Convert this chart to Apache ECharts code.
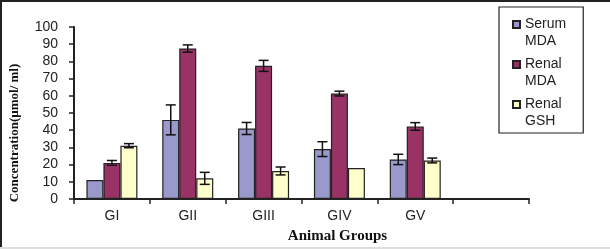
<!DOCTYPE html>
<html>
<head>
<meta charset="utf-8">
<script src="https://cdn.jsdelivr.net/npm/echarts@6/dist/echarts.min.js"></script>
<style>
    html, body { margin: 0; padding: 0; background: #fff; }
    #figure { width: 610px; height: 249px; }
</style>
</head>
<body>
<div id="figure"></div>
<script>
    const groups = ['GI', 'GII', 'GIII', 'GIV', 'GV', ''];
    const yTicks = [0, 10, 20, 30, 40, 50, 60, 70, 80, 90, 100];

    const serumMDA = [11, 46, 41, 29, 23, null];
    const serumMDAErr = [0, 8.7, 3.5, 4.3, 3, 0];
    const renalMDA = [21, 87.5, 77.4, 61.3, 42.2, null];
    const renalMDAErr = [1.4, 2.1, 3.2, 1.4, 2.2, 0];
    const renalGSH = [31, 12, 16.3, 18, 22.4, null];
    const renalGSHErr = [1.2, 3.5, 2.3, 0, 1.4, 0];

    const names = ['Serum\nMDA', 'Renal\nMDA', 'Renal\nGSH'];
    const colors = ['#9999cc', '#993366', '#ffffcc'];
    const BAR_W = 17;

    const $figure = document.getElementById('figure');
    const figure = echarts.init($figure);

    function errData(values, errs) {
        const out = [];
        for (let i = 0; i < values.length; i++) {
            if (values[i] == null || !errs[i]) continue;
            out.push([i, values[i] - errs[i], values[i] + errs[i]]);
        }
        return out;
    }

    function errSeries(values, errs, k) {
        return {
            type: 'custom',
            data: errData(values, errs),
            z: 5,
            silent: true,
            renderItem: function (params, api) {
                const lo = api.coord([api.value(0), api.value(1)]);
                const hi = api.coord([api.value(0), api.value(2)]);
                const x = lo[0] + (k - 1) * BAR_W;
                const style = {stroke: '#111', lineWidth: 1.5};
                return {
                    type: 'group',
                    children: [
                        {type: 'line', shape: {x1: x, y1: lo[1], x2: x, y2: hi[1]}, style: style},
                        {type: 'line', shape: {x1: x - 5, y1: lo[1], x2: x + 5, y2: lo[1]}, style: style},
                        {type: 'line', shape: {x1: x - 5, y1: hi[1], x2: x + 5, y2: hi[1]}, style: style}
                    ]
                };
            }
        };
    }

    function barSeries(k, values) {
        return {
            name: names[k],
            type: 'bar',
            data: values,
            barWidth: BAR_W,
            barGap: '0%',
            itemStyle: {color: colors[k], borderColor: '#222', borderWidth: 1.2}
        };
    }

    figure.setOption({
        animation: false,
        graphic: [
            {type: 'line', shape: {x1: 1, y1: 0, x2: 1, y2: 249}, style: {stroke: '#222', lineWidth: 2}},
            {type: 'line', shape: {x1: 0, y1: 1, x2: 610, y2: 1}, style: {stroke: '#222', lineWidth: 2}},
            {type: 'line', shape: {x1: 0, y1: 248, x2: 610, y2: 248}, style: {stroke: '#dddddd', lineWidth: 2}}
        ],
        grid: {left: 74, right: 81, top: 27, bottom: 42},
        legend: {
            orient: 'vertical',
            left: 499,
            top: 7,
            padding: [9, 17, 3, 13],
            itemGap: 6,
            itemWidth: 7,
            itemHeight: 24,
            icon: 'path://M0,0L7,0L7,7L0,7Z M0,24L0.01,24',
            borderColor: '#222',
            borderWidth: 1.2,
            textStyle: {fontFamily: 'Liberation Sans', fontSize: 14, color: '#222', lineHeight: 17},
            data: names
        },
        xAxis: {
            type: 'category',
            data: groups,
            name: 'Animal Groups',
            nameLocation: 'middle',
            nameGap: 30,
            nameTextStyle: {fontFamily: 'Liberation Serif', fontWeight: 'bold', fontSize: 15, color: '#111', padding: [0, 0, 0, 72]},
            axisLine: {lineStyle: {color: '#222', width: 2}},
            axisTick: {show: true, interval: 0, length: 5, lineStyle: {color: '#222', width: 1.5}},
            axisLabel: {interval: 0, margin: 10, fontFamily: 'Liberation Sans', fontSize: 14, color: '#222'}
        },
        yAxis: {
            type: 'value',
            min: yTicks[0],
            max: yTicks[yTicks.length - 1],
            interval: yTicks[1] - yTicks[0],
            name: 'Concentration(\u00b5mol/ ml)',
            nameLocation: 'middle',
            nameRotate: 90,
            nameGap: 53,
            nameTextStyle: {fontFamily: 'Liberation Serif', fontWeight: 'bold', fontSize: 13, color: '#111', padding: [0, 40, 0, 0]},
            axisLine: {show: true, lineStyle: {color: '#222', width: 2}},
            axisTick: {show: true, length: 5, lineStyle: {color: '#222', width: 1.5}},
            splitLine: {show: false},
            axisLabel: {margin: 16, fontFamily: 'Liberation Sans', fontSize: 14, color: '#222'}
        },
        series: [
            barSeries(0, serumMDA),
            barSeries(1, renalMDA),
            barSeries(2, renalGSH),
            errSeries(serumMDA, serumMDAErr, 0),
            errSeries(renalMDA, renalMDAErr, 1),
            errSeries(renalGSH, renalGSHErr, 2)
        ]
    });
</script>
</body>
</html>
